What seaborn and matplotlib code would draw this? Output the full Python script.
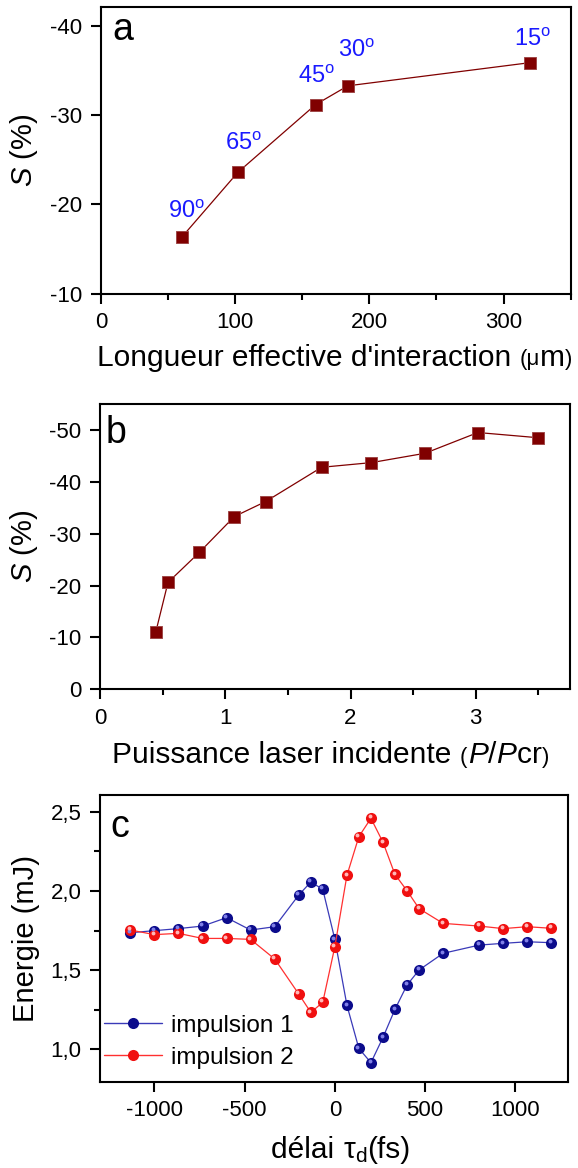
import numpy as np
import pandas as pd
import matplotlib
matplotlib.use("Agg")
import matplotlib.pyplot as plt
import matplotlib.transforms as mtrans
from matplotlib.ticker import MultipleLocator
import seaborn as sns

# ---- data ----
# panel a
length_um = [60, 102, 160, 184, 320]
s_a = [-16.3, -23.6, -31.2, -33.3, -35.9]
angle_labels = ["90", "65", "45", "30", "15"]

# panel b
power_ratio = [0.444, 0.541, 0.792, 1.071, 1.322, 1.769, 2.167, 2.595, 3.018, 3.498]
s_b = [-11.1, -20.6, -26.4, -33.3, -36.2, -42.8, -43.7, -45.5, -49.5, -48.5]

# panel c
delay_fs = [-1133, -1000, -867, -733, -600, -467, -333, -200, -133, -67, 0, 67,
            133, 200, 267, 333, 400, 467, 600, 800, 933, 1067, 1200]
energy_1 = [1.736, 1.749, 1.762, 1.778, 1.831, 1.753, 1.774, 1.974, 2.056, 2.010,
            1.694, 1.278, 1.006, 0.916, 1.076, 1.252, 1.406, 1.501, 1.606, 1.658,
            1.669, 1.679, 1.673]
energy_2 = [1.753, 1.724, 1.732, 1.700, 1.700, 1.694, 1.570, 1.349, 1.233, 1.297,
            1.648, 2.098, 2.342, 2.458, 2.306, 2.104, 2.001, 1.888, 1.795, 1.778,
            1.762, 1.774, 1.764]
series_names = ["impulsion 1", "impulsion 2"]

sns.set_theme(style="ticks")
plt.rcParams["font.family"] = ["Liberation Sans", "DejaVu Sans"]
plt.rcParams["mathtext.fontset"] = "custom"
plt.rcParams["mathtext.rm"] = "Liberation Sans"
plt.rcParams["mathtext.it"] = "Liberation Sans:italic"
plt.rcParams["mathtext.bf"] = "Liberation Sans:bold"
plt.rcParams["axes.unicode_minus"] = False
for k in ["text.color", "axes.labelcolor", "xtick.color", "ytick.color",
          "xtick.labelcolor", "ytick.labelcolor", "axes.edgecolor"]:
    plt.rcParams[k] = "black"

W, H = 578, 1168
fig = plt.figure(figsize=(W / 100, H / 100), dpi=100)

def box(l, t, r, b):
    return [l / W, 1 - b / H, (r - l) / W, (b - t) / H]

ax_a = fig.add_axes(box(101.0, 7.3, 570.6, 293.7))
ax_b = fig.add_axes(box(100.3, 404, 569.5, 689.3))
ax_c = fig.add_axes(box(100.3, 795, 567.6, 1081.7))

dark_red = "#800000"
tick_fs = 16
label_fs = 21.5
ylabel_fs = 21
small_fs = 16
legend_fs = 17.5
letter_fs = 27

def style(ax):
    for sp in ax.spines.values():
        sp.set_linewidth(1.5)
        sp.set_color("black")
    ax.tick_params(axis="both", which="major", direction="out", length=7, width=1.5,
                   labelsize=tick_fs, color="black", labelcolor="black", pad=6.5)
    ax.tick_params(axis="both", which="minor", direction="out", length=4, width=1.5,
                   color="black")
    ax.tick_params(top=False, right=False, which="both")

def ylabel_at(ax, text, x_px, ax_left, ax_w):
    ax.set_ylabel(text, fontsize=ylabel_fs, color="black")
    ax.yaxis.set_label_coords((x_px - ax_left) / ax_w, 0.5)

renderer = fig.canvas.get_renderer()

def multi_part_label(parts, center_px, baseline_px):
    texts = []
    widths = []
    for s, size in parts:
        t = fig.text(0, 0, s, fontsize=size, va="baseline", ha="left", color="black")
        texts.append(t)
        widths.append(t.get_window_extent(renderer).width)
    left = center_px - sum(widths) / 2
    for t, w in zip(texts, widths):
        t.set_position((left / W, 1 - baseline_px / H))
        left += w

# ---- panel a ----
df_a = pd.DataFrame({"L": length_um, "S": s_a})
sns.lineplot(data=df_a, x="L", y="S", ax=ax_a, color=dark_red, lw=0.9,
             marker="s", markersize=8.8, markeredgecolor="#a04848", markeredgewidth=0.7,
             sort=False)
ax_a.set_xlim(0, 350)
ax_a.set_ylim(-10, -42.1)
ax_a.set_xticks([0, 100, 200, 300])
ax_a.xaxis.set_minor_locator(MultipleLocator(50))
ax_a.set_yticks([-40, -30, -20, -10])
ax_a.set_xlabel("")
ylabel_at(ax_a, r"$\mathit{S}$ (%)", 39.5, 101.0, 469.6)
label_off = [(3.5, 13.9), (4.2, 15.8), (0.7, 15.4), (6.1, 20.6), (1.6, 11.8)]
for x, y, t, (dx, dy) in zip(length_um, s_a, angle_labels, label_off):
    ax_a.annotate(t + r"$^{\mathregular{o}}$", (x, y), xytext=(dx, dy),
                  textcoords="offset points", ha="center", va="baseline",
                  color="#1a1aff", fontsize=17)
ax_a.text(0.024, 0.886, "a", transform=ax_a.transAxes, fontsize=letter_fs,
          ha="left", va="baseline", color="black")
style(ax_a)
multi_part_label([("Longueur effective d'interaction ", label_fs), ("(μ", small_fs),
                  ("m", label_fs), (")", small_fs)], 335, 365.5)

# ---- panel b ----
df_b = pd.DataFrame({"P": power_ratio, "S": s_b})
sns.lineplot(data=df_b, x="P", y="S", ax=ax_b, color=dark_red, lw=0.9,
             marker="s", markersize=8.8, markeredgecolor="#a04848", markeredgewidth=0.7,
             sort=False)
ax_b.set_xlim(0, 3.75)
ax_b.set_ylim(0, -55)
ax_b.set_xticks([0, 1, 2, 3])
ax_b.xaxis.set_minor_locator(MultipleLocator(0.5))
ax_b.set_yticks([-50, -40, -30, -20, -10, 0])
ax_b.set_xlabel("")
ylabel_at(ax_b, r"$\mathit{S}$ (%)", 39.5, 100.3, 469.2)
ax_b.text(0.012, 0.862, "b", transform=ax_b.transAxes, fontsize=letter_fs,
          ha="left", va="baseline", color="black")
style(ax_b)
multi_part_label([("Puissance laser incidente ", label_fs), ("(", small_fs),
                  (r"$\mathit{P}$/$\mathit{P}$cr", label_fs), (")", small_fs)], 331, 763)

# ---- panel c ----
df_c = pd.DataFrame({
    "delay": delay_fs * 2,
    "E": energy_1 + energy_2,
    "serie": [series_names[0]] * len(delay_fs) + [series_names[1]] * len(delay_fs),
})
line_cols = {series_names[0]: "#3a3ab8", series_names[1]: "#ff3030"}
mark_cols = {series_names[0]: "#0c0c8c", series_names[1]: "#f01010"}
hl = {series_names[0]: "#8080e8", series_names[1]: "#ffb8b8"}
sns.lineplot(data=df_c, x="delay", y="E", hue="serie", palette=line_cols, ax=ax_c,
             lw=0.9, marker="o", markersize=8, markeredgewidth=0, sort=False)
for ln in ax_c.lines:
    c = matplotlib.colors.to_rgba(ln.get_color())
    for name in series_names:
        if np.allclose(c, matplotlib.colors.to_rgba(line_cols[name])):
            ln.set_markerfacecolor(mark_cols[name])
# sphere-like highlights
shift = mtrans.ScaledTranslation(-1.0 / 72, 1.3 / 72, fig.dpi_scale_trans)
for name, ys in zip(series_names, [energy_1, energy_2]):
    ax_c.plot(delay_fs, ys, ls="none", marker="o", ms=2.8, mec="none", mfc=hl[name],
              transform=ax_c.transData + shift)
ax_c.set_xlim(-1300, 1290)
ax_c.set_ylim(0.796, 2.605)
ax_c.set_xticks([-1000, -500, 0, 500, 1000])
ax_c.set_yticks([1.0, 1.5, 2.0, 2.5])
ax_c.yaxis.set_minor_locator(MultipleLocator(0.25))
ax_c.set_yticklabels(["1,0", "1,5", "2,0", "2,5"])
ax_c.set_xlabel("")
ylabel_at(ax_c, "Energie (mJ)", 39.5, 100.3, 467.3)
ax_c.text(0.022, 0.855, "c", transform=ax_c.transAxes, fontsize=letter_fs,
          ha="left", va="baseline", color="black")
handles, labels = ax_c.get_legend_handles_labels()
leg = ax_c.legend(handles[:2], labels[:2], loc="lower left", bbox_to_anchor=(0.008, 0.045),
                  frameon=False, fontsize=legend_fs, handlelength=2.4, handletextpad=0.35,
                  labelspacing=0.42, borderaxespad=0.0, borderpad=0.0)
for h, name in zip(leg.legend_handles, series_names):
    h.set_linewidth(1.0)
    h.set_markerfacecolor(mark_cols[name])
for t in leg.get_texts():
    t.set_color("black")
style(ax_c)
multi_part_label([("délai ", label_fs), (r"τ$_{\mathregular{d}}$", label_fs),
                  ("(fs)", label_fs)], 341, 1158)

fig.savefig("out.png", dpi=100)
